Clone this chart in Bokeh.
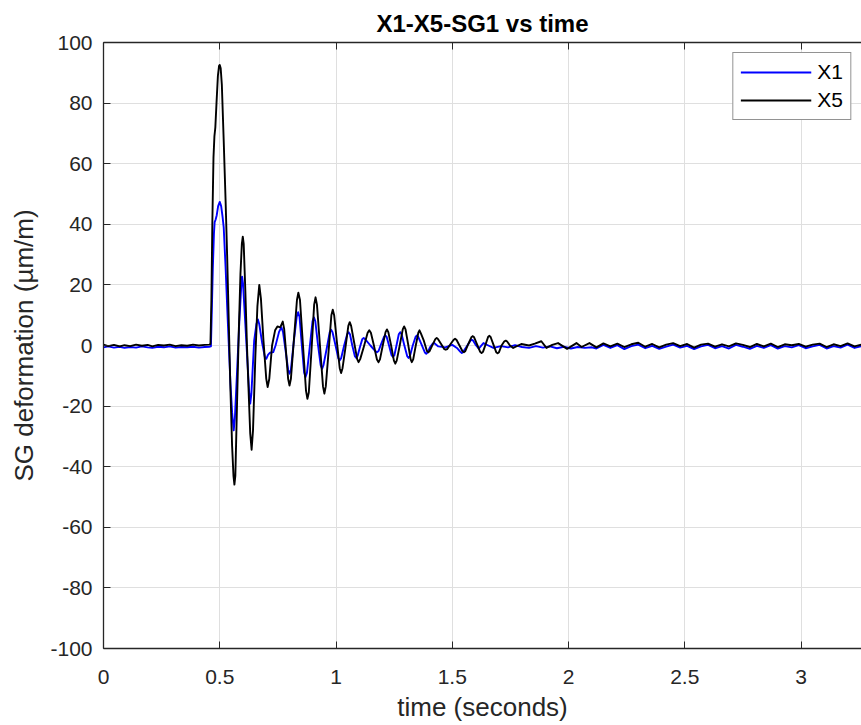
from bokeh.plotting import figure
from bokeh.models import (ColumnDataSource, FixedTicker, LinearAxis, NumeralTickFormatter,
                          CustomJSTickFormatter, Range1d, Legend, LegendItem)
from bokeh.embed import file_html
from bokeh.resources import INLINE

# ---------------- data ----------------
x_ticks = [0, 0.5, 1, 1.5, 2, 2.5, 3]
y_ticks = [-100, -80, -60, -40, -20, 0, 20, 40, 60, 80, 100]

base_t = [0, 0.02, 0.045, 0.07, 0.09, 0.115, 0.14, 0.165, 0.19, 0.21, 0.235, 0.26, 0.285,
          0.31, 0.335, 0.36, 0.385, 0.41, 0.435, 0.455]
tail_t = [2.12, 2.15, 2.18, 2.21, 2.24, 2.27, 2.30, 2.33, 2.36, 2.39, 2.42, 2.45, 2.48,
          2.51, 2.54, 2.57, 2.60, 2.63, 2.66, 2.69, 2.72, 2.75, 2.78, 2.81, 2.84, 2.87,
          2.90, 2.93, 2.96, 2.99, 3.02, 3.05, 3.08, 3.11, 3.14, 3.17, 3.20, 3.23, 3.26]

# X5 (black)
x5_base = [0.3, -0.2, 0.2, -0.3, 0.1, -0.2, 0.3, -0.1, 0.2, -0.3, 0.2, 0.0, 0.3,
           -0.2, 0.1, -0.1, 0.3, 0.0, 0.2, 0.3]
x5_event_t = [0.460, 0.464, 0.468, 0.473, 0.477, 0.481, 0.486, 0.492, 0.497, 0.500, 0.504,
              0.509, 0.517, 0.525, 0.532, 0.546, 0.553, 0.559, 0.563, 0.567, 0.574, 0.582,
              0.589, 0.595, 0.599, 0.603, 0.610, 0.617, 0.624, 0.631, 0.637, 0.643, 0.653,
              0.662, 0.670, 0.677, 0.688, 0.700, 0.706, 0.713, 0.725, 0.738, 0.748, 0.760,
              0.771, 0.777, 0.786, 0.794, 0.800, 0.806, 0.819, 0.832, 0.838, 0.845, 0.858,
              0.871, 0.877, 0.883, 0.895, 0.906, 0.912, 0.918, 0.931, 0.944, 0.950, 0.956,
              0.968, 0.980, 0.986, 0.992, 1.004, 1.016, 1.022, 1.028, 1.040, 1.053, 1.059,
              1.065, 1.078, 1.091, 1.097, 1.104, 1.120, 1.136, 1.143, 1.150, 1.163, 1.176,
              1.183, 1.189, 1.201, 1.213, 1.219, 1.225, 1.237, 1.249, 1.255, 1.261, 1.274,
              1.287, 1.293, 1.299, 1.310, 1.321, 1.326, 1.332, 1.343, 1.354, 1.359, 1.365,
              1.378, 1.391, 1.397, 1.403, 1.415, 1.427, 1.433, 1.439, 1.452, 1.466, 1.472,
              1.478, 1.492, 1.506, 1.512, 1.518, 1.531, 1.544, 1.550, 1.556, 1.569, 1.582,
              1.588, 1.594, 1.607, 1.620, 1.626, 1.632, 1.643, 1.654, 1.659, 1.665, 1.677,
              1.689, 1.695, 1.701, 1.712, 1.724, 1.730, 1.736, 1.748, 1.762, 1.797, 1.830,
              1.855, 1.883, 1.905, 1.930, 1.955, 1.994, 2.034, 2.056, 2.090]
x5_event_v = [0.5, 15, 40, 62, 69, 72, 80, 89, 92.3, 92.6, 91.5,
              86, 67.6, 48, 29.1, -14.8, -33, -43, -45.9, -43, -20.3, 5,
              23.6, 33.5, 35.9, 33.5, 18.1, 0, -14.8, -29, -34.4, -28, -3.8,
              13, 20, 15.5, 1.6, -11, -13.7, -11, 0, 5, 6.3, 6.0,
              7.9, 5.5, -3, -11, -13.2, -11, 2, 15, 17.4, 15, 0,
              -15, -17.6, -15.5, -1, 13.5, 15.9, 13.5, 0, -13.5, -15.9, -13.5,
              -2, 10, 11.8, 10, 1, -7.5, -9.1, -7.5, -1, 6.5, 7.7,
              6.5, 1, -4.5, -5.5, -4.5, -0.3, 4.2, 5.0, 4.2, 0, -4.6,
              -5.5, -4.6, 0, 4.4, 5.3, 4.4, 0, -5, -6.0, -5, 0,
              5.3, 6.3, 5.3, 0.5, -4.6, -5.5, -4.6, 0, 4.2, 5.0, 4.0,
              1.5, -1.8, -2.2, -1.8, 0.2, 2.1, 2.5, 2.1, 0.5, -1.2, -1.4,
              -1.2, 0.4, 1.9, 2.2, 1.9, 0, -1.9, -2.2, -1.9, 0.5, 2.7,
              3.1, 2.7, 0.3, -2.1, -2.5, -2.1, 0.3, 2.8, 3.2, 2.8, 0.3,
              -2.2, -2.6, -2.2, 0, 1.4, 1.6, 1.3, 0, -0.8, 0.5, 0.0,
              0.6, 1.4, -0.8, 0.2, 0.8, -1.1, 0.8, -0.5, 0.8]
x5_tail = [-0.6, 0.7, -0.3, 0.6, -0.5, 0.4, 0.9, -0.4, 0.5, -0.6, 0.3, 0.8, -0.2,
           0.5, -0.7, 0.3, 0.6, -0.4, 0.4, -0.3, 0.7, 0.2, -0.5, 0.5, -0.3, 0.6,
           -0.5, 0.4, 0.1, 0.5, -0.4, 0.3, 0.6, -0.5, 0.4, -0.2, 0.7, -0.3, 0.3]

# X1 (blue)
x1_base = [-0.6, -0.3, -0.7, -0.4, -0.8, -0.5, -0.7, -0.3, -0.6, -0.8, -0.4, -0.6, -0.3,
           -0.7, -0.5, -0.6, -0.4, -0.7, -0.5, -0.4]
x1_event_t = [0.462, 0.466, 0.470, 0.475, 0.478, 0.482, 0.487, 0.493, 0.500, 0.506, 0.512,
              0.517, 0.525, 0.532, 0.546, 0.553, 0.560, 0.565, 0.574, 0.583, 0.589, 0.593,
              0.596, 0.600, 0.610, 0.621, 0.627, 0.631, 0.636, 0.648, 0.658, 0.664, 0.670,
              0.682, 0.694, 0.700, 0.708, 0.716, 0.730, 0.740, 0.755, 0.765, 0.772, 0.782,
              0.794, 0.800, 0.806, 0.818, 0.831, 0.837, 0.843, 0.853, 0.863, 0.869, 0.875,
              0.887, 0.899, 0.905, 0.911, 0.922, 0.934, 0.940, 0.946, 0.960, 0.973, 0.979,
              0.985, 0.998, 1.010, 1.016, 1.022, 1.035, 1.048, 1.054, 1.060, 1.070, 1.081,
              1.087, 1.093, 1.103, 1.113, 1.119, 1.126, 1.148, 1.170, 1.176, 1.183, 1.194,
              1.206, 1.212, 1.218, 1.228, 1.239, 1.245, 1.251, 1.260, 1.270, 1.276, 1.282,
              1.294, 1.306, 1.312, 1.318, 1.330, 1.342, 1.348, 1.354, 1.368, 1.382, 1.388,
              1.394, 1.405, 1.416, 1.422, 1.44, 1.47, 1.50, 1.52, 1.535, 1.541, 1.547,
              1.562, 1.578, 1.584, 1.590, 1.600, 1.614, 1.634, 1.655, 1.677, 1.71, 1.74,
              1.77, 1.80, 1.83, 1.86, 1.89, 1.92, 1.95, 1.98, 2.01, 2.04, 2.07, 2.10]
x1_event_v = [-0.3, 12, 25, 37, 40.7, 41.5, 43, 46, 47.4, 46, 42.5,
              39, 26, 12.6, -12.6, -22, -28, -24, -9.3, 6, 14.8, 20.5,
              22.7, 20.5, 7.1, -8, -16, -19.2, -16, 1.6, 7.2, 8.6, 7,
              1.0, -3.8, -4.4, -3, -2.4, -2.2, 0, 4.5, 6.0, 4.5, -1.0,
              -8, -9.3, -8, 1.0, 9.5, 11.0, 9.5, 0, -9, -10.4, -9,
              -0.5, 8, 9.3, 8, 0.5, -6.5, -7.7, -6.5, -1, 4.4, 5.2,
              4.4, 0, -4.2, -4.9, -4.2, 0, 3.7, 4.4, 3.7, 0, -3.5,
              -4.1, -3.4, -0.5, 2.1, 2.5, 2.0, 0, -1.9, -2.2, -1.8, 0.5,
              2.8, 3.3, 2.8, 0, -3.2, -3.8, -3.2, 0, 3.7, 4.4, 3.7,
              0, -3.5, -4.1, -3.5, 0, 2.8, 3.3, 2.8, 0.3, -2.3, -2.7,
              -2.3, -0.5, 0.6, 0.8, -0.3, -0.6, 0.2, -0.8, -2.1, -2.5, -2.1,
              -0.3, 1.6, 1.9, 1.6, 0.3, -1.0, 0.8, 0.0, -0.8, -0.2, -0.6,
              0.1, -0.5, -0.8, -0.2, -0.7, -0.3, -0.9, -0.4, -1.0, -0.5, -0.8, -0.6]
x1_tail = [-1.0, 0.2, -0.8, 0.1, -1.2, -0.2, 0.3, -0.9, -0.1, -1.1, -0.4, 0.3, -0.7,
           -0.1, -1.2, -0.3, 0.2, -0.9, -0.2, -1.0, 0.2, -0.4, -1.1, -0.1, -0.8, 0.1,
           -1.0, -0.2, -0.6, 0.1, -0.9, -0.3, 0.2, -1.0, -0.2, -0.7, 0.3, -0.8, -0.2]

t_x5 = base_t + x5_event_t + tail_t
v_x5 = x5_base + x5_event_v + x5_tail
t_x1 = base_t + x1_event_t + tail_t
v_x1 = x1_base + x1_event_v + x1_tail

# ---------------- figure ----------------
AX = "#262626"
FONT = "Liberation Sans"
TICK_FS = "21px"
LABEL_FS = "26px"

p = figure(width=861, height=725, output_backend="svg", toolbar_location=None,
           x_range=Range1d(0, 3.26), y_range=Range1d(-100, 100),
           min_border_left=103, min_border_right=0, min_border_top=42, min_border_bottom=77,
           x_axis_label="time (seconds)", y_axis_label="SG deformation (µm/m)")
p.outline_line_color = None
p.background_fill_color = "white"
p.border_fill_color = "white"

p.title.text = "X1-X5-SG1 vs time"
p.title.align = "center"
p.title.text_font = FONT
p.title.text_font_size = "24px"
p.title.text_font_style = "bold"
p.title.text_color = "black"
p.title.standoff = 12

src5 = ColumnDataSource(dict(t=t_x5, v=v_x5))
src1 = ColumnDataSource(dict(t=t_x1, v=v_x1))
r1 = p.line("t", "v", source=src1, line_color="#0000ff", line_width=1.9, line_join="round")
r5 = p.line("t", "v", source=src5, line_color="black", line_width=1.9, line_join="round")

for ax, ticks in ((p.xaxis[0], x_ticks), (p.yaxis[0], y_ticks)):
    ax.ticker = FixedTicker(ticks=ticks)
    ax.major_tick_in = 7
    ax.major_tick_out = 0
    ax.minor_tick_line_color = None
    ax.axis_line_color = AX
    ax.axis_line_width = 1.3
    ax.major_tick_line_color = AX
    ax.major_label_text_font = FONT
    ax.major_label_text_font_size = TICK_FS
    ax.major_label_text_color = AX
    ax.axis_label_text_font = FONT
    ax.axis_label_text_font_size = LABEL_FS
    ax.axis_label_text_font_style = "normal"
    ax.axis_label_text_color = AX
p.xaxis[0].formatter = NumeralTickFormatter(format="0.[0]")
p.yaxis[0].formatter = NumeralTickFormatter(format="0")
p.xaxis[0].major_label_standoff = 21
p.xaxis[0].axis_label_standoff = 5
p.yaxis[0].major_label_standoff = 11
p.yaxis[0].axis_label_standoff = 8

top = LinearAxis(ticker=FixedTicker(ticks=x_ticks), major_tick_in=7, major_tick_out=0,
                 minor_tick_line_color=None, axis_line_color=AX, axis_line_width=1.3,
                 major_tick_line_color=AX,
                 formatter=CustomJSTickFormatter(code="return '';"),
                 major_label_standoff=0)
p.add_layout(top, "above")

p.grid.grid_line_color = "#dfdfdf"
p.grid.grid_line_width = 1
p.xgrid.ticker = FixedTicker(ticks=x_ticks)
p.ygrid.ticker = FixedTicker(ticks=y_ticks)

legend = Legend(items=[LegendItem(label="X1", renderers=[r1]),
                       LegendItem(label="X5", renderers=[r5])],
                location="top_right", margin=10, padding=7, spacing=4,
                glyph_width=71, glyph_height=22, label_height=22, label_standoff=6,
                label_text_font=FONT, label_text_font_size=TICK_FS, label_text_color="black",
                border_line_color=AX, border_line_width=1.3, background_fill_alpha=1)
p.add_layout(legend)

open("out.html", "w").write(file_html(p, INLINE))
